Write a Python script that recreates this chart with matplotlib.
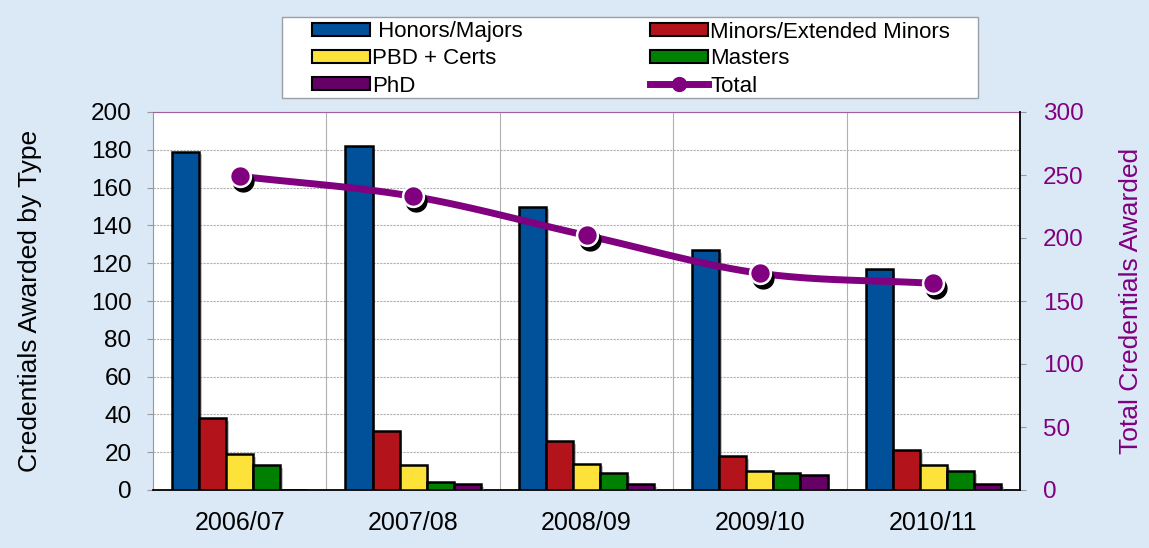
import matplotlib
matplotlib.use("Agg")
import matplotlib.pyplot as plt
import matplotlib.patheffects as pe
import matplotlib.transforms as mtransforms
from matplotlib.patches import Rectangle
import numpy as np

plt.rcParams['font.family'] = ['Liberation Sans', 'DejaVu Sans']

years = ["2006/07", "2007/08", "2008/09", "2009/10", "2010/11"]
honors = [179, 182, 150, 127, 117]
minors = [38, 31, 26, 18, 21]
pbd = [19, 13, 14, 10, 13]
masters = [13, 4, 9, 9, 10]
phd = [0, 3, 3, 8, 3]
total = [249, 233, 202, 172, 164]

series_names = ["Honors/Majors", "Minors/Extended Minors", "PBD + Certs", "Masters", "PhD"]
series_vals = [honors, minors, pbd, masters, phd]
series_cols = ["#00509a", "#b3141c", "#fde23a", "#008000", "#660066"]

W, H = 1149, 548
fig = plt.figure(figsize=(W/100, H/100), dpi=100)
fig.patch.set_facecolor("#dbe8f5")

ax = fig.add_axes([153/W, 1-490/H, (1020-153)/W, (490-112)/H])
ax.set_facecolor("white")
ax2 = ax.twinx()

n = len(years)
x = np.arange(n)
bw = 27/173
offsets = (np.arange(5) - 2) * bw
for vals, off, col, name in zip(series_vals, offsets, series_cols, series_names):
    ax.bar(x + off, vals, width=bw, color=col, edgecolor="black", linewidth=1.8,
           label=name, zorder=3,
           path_effects=[pe.SimplePatchShadow(offset=(2, -2), shadow_rgbFace="#888888", alpha=0.5), pe.Normal()])

ax.set_xlim(-0.5, n - 0.5)
ax.set_ylim(0, 200)
ax.set_yticks(range(0, 201, 20))
ax.set_xticks(x)
ax.set_xticklabels(years, fontsize=18)
ax.tick_params(axis='y', labelsize=17.5, length=4.5, color="#999999", direction="out", pad=11)
ax.tick_params(axis='x', length=0, pad=15)
for xb in np.arange(-0.5, n, 1.0)[1:]:
    ax.axvline(xb, color="#b0b0b0", linewidth=0.8, zorder=1)
ax.yaxis.grid(True, color="#b0b0b0", linestyle=(0, (2, 1)), linewidth=0.8, zorder=1)
ax.set_axisbelow(True)
ax.spines['left'].set_color("#a090b0")
ax.spines['left'].set_linewidth(0.8)
ax.spines['top'].set_color("#a060a0")
ax.spines['top'].set_linewidth(0.8)
ax.spines['bottom'].set_color("black")
ax.spines['bottom'].set_linewidth(1.3)
ax.spines['right'].set_visible(False)
ax.set_ylabel("Credentials Awarded by Type", fontsize=19)
ax.yaxis.set_label_coords((42 - 153) / 867, 0.5)

def smooth(xs, ys, steps=30):
    xs = np.asarray(xs, float); ys = np.asarray(ys, float)
    px = np.concatenate([[2*xs[0]-xs[1]], xs, [2*xs[-1]-xs[-2]]])
    py = np.concatenate([[2*ys[0]-ys[1]], ys, [2*ys[-1]-ys[-2]]])
    outx, outy = [], []
    for i in range(1, len(px)-2):
        t = np.linspace(0, 1, steps)
        for P, out in ((px, outx), (py, outy)):
            p0, p1, p2, p3 = P[i-1], P[i], P[i+1], P[i+2]
            out.extend(0.5*((2*p1) + (-p0+p2)*t + (2*p0-5*p1+4*p2-p3)*t**2 + (-p0+3*p1-3*p2+p3)*t**3))
    return np.array(outx), np.array(outy)

purple = "#800080"
sx, sy = smooth(x, total)
ax2.plot(sx, sy, color=purple, linewidth=5, zorder=4, solid_capstyle='round')
shadow_tr = ax2.transData + mtransforms.ScaledTranslation(3/100, -5/100, fig.dpi_scale_trans)
ax2.plot(x, total, linestyle='none', marker='o', markersize=15, color="black",
         markeredgecolor="black", transform=shadow_tr, zorder=5)
ax2.plot(x, total, linestyle='none', marker='o', markersize=15, color=purple,
         markeredgecolor="white", markeredgewidth=1.8, zorder=6)
ax2.set_ylim(0, 300)
ax2.set_yticks(range(0, 301, 50))
ax2.tick_params(axis='y', labelsize=17.5, labelcolor=purple, length=4.5, color="#999999", pad=12)
ax2.spines['right'].set_color("black")
ax2.spines['right'].set_linewidth(1.3)
for s in ['left', 'top', 'bottom']:
    ax2.spines[s].set_visible(False)
ax2.set_ylabel("Total Credentials Awarded", fontsize=19, color=purple)
ax2.yaxis.set_label_coords((1119 - 153) / 867, 0.5)
ax2.set_xlim(-0.5, n - 0.5)

# legend frame
fig.patches.append(Rectangle((282/W, 1-98/H), (978-282)/W, (98-17)/H, transform=fig.transFigure,
                             facecolor="white", edgecolor="#9aa0a8", linewidth=1.0, zorder=1))

from matplotlib.lines import Line2D
from matplotlib.patches import Patch
h = [Patch(facecolor=c, edgecolor="black", linewidth=1.5) for c in series_cols]
line_h = Line2D([0], [0], color=purple, linewidth=5, marker='o', markersize=10,
                markerfacecolor=purple, markeredgecolor=purple)
handles = [h[0], h[2], h[4], h[1], h[3], line_h]
labels = [" " + series_names[0], series_names[2], series_names[4], series_names[1], series_names[3], "Total"]
leg = fig.legend(handles, labels, ncol=2, loc='center left',
                 bbox_to_anchor=(312/W, 1-98/H, (950-312)/W, (98-20)/H),
                 mode="expand", fontsize=16, frameon=False,
                 handlelength=2.6, handleheight=0.55, handletextpad=0.1,
                 labelspacing=0.27, borderpad=0.0, borderaxespad=0, columnspacing=2)
leg.set_zorder(10)

fig.savefig("out.png", dpi=100, facecolor=fig.get_facecolor())
